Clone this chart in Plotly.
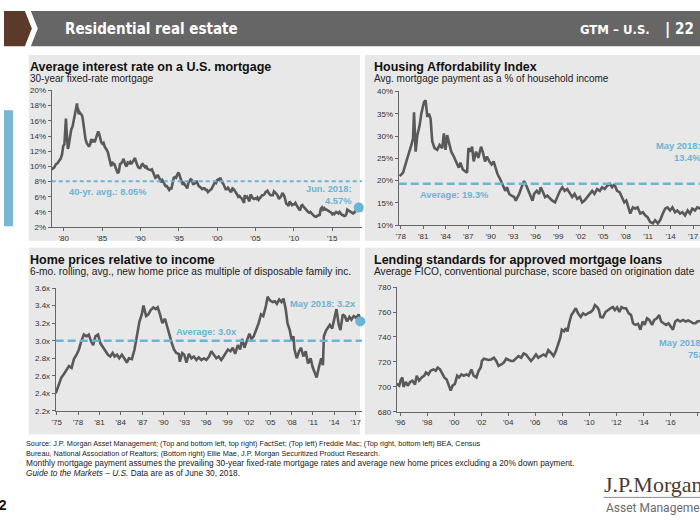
import plotly.graph_objects as go

W, H = 700, 525

# ---------------- data ----------------
# Panel 1: 30-year fixed mortgage rate (%)
rate_years = [1978.45,1978.6,1978.8,1979.0,1979.2,1979.4,1979.6,1979.8,1979.95,1980.1,1980.2,1980.3,1980.38,1980.45,1980.55,1980.62,1980.75,1980.9,
 1981.0,1981.15,1981.3,1981.45,1981.6,1981.75,1981.8,1981.87,1981.95,1982.1,1982.25,1982.4,1982.5,1982.6,1982.72,1982.85,
 1983.0,1983.15,1983.3,1983.45,1983.6,1983.75,1983.9,1984.05,1984.2,1984.35,1984.5,1984.6,1984.75,1984.9,
 1985.05,1985.2,1985.35,1985.5,1985.6,1985.75,1985.9,1986.05,1986.2,1986.3,1986.45,1986.6,1986.75,1986.9,
 1987.05,1987.2,1987.35,1987.5,1987.65,1987.8,1987.9,1988.05,1988.2,1988.35,1988.5,1988.65,1988.8,1988.95,
 1989.1,1989.3,1989.4,1989.55,1989.7,1989.85,1990.0,1990.15,1990.3,1990.45,1990.6,1990.75,1990.9,
 1991.05,1991.2,1991.35,1991.5,1991.65,1991.8,1991.95,1992.1,1992.25,1992.4,1992.55,1992.7,1992.85,
 1993.0,1993.15,1993.3,1993.45,1993.6,1993.75,1993.9,1994.05,1994.2,1994.35,1994.5,1994.65,1994.8,1994.95,
 1995.05,1995.2,1995.35,1995.5,1995.65,1995.8,1995.95,1996.1,1996.25,1996.4,1996.55,1996.7,1996.85,
 1997.0,1997.15,1997.3,1997.45,1997.6,1997.75,1997.9,1998.05,1998.2,1998.35,1998.5,1998.65,1998.8,1998.95,
 1999.1,1999.25,1999.4,1999.55,1999.7,1999.85,2000.0,2000.15,2000.3,2000.4,2000.5,2000.65,2000.8,2000.95,
 2001.1,2001.25,2001.4,2001.55,2001.7,2001.85,2002.0,2002.15,2002.3,2002.45,2002.6,2002.75,2002.9,
 2003.05,2003.2,2003.35,2003.5,2003.6,2003.75,2003.9,2004.05,2004.2,2004.35,2004.5,2004.65,2004.8,2004.95,
 2005.1,2005.25,2005.4,2005.55,2005.7,2005.85,2006.0,2006.15,2006.3,2006.45,2006.55,2006.7,2006.85,2006.95,
 2007.1,2007.25,2007.4,2007.55,2007.7,2007.85,2007.95,2008.05,2008.2,2008.35,2008.5,2008.6,2008.75,2008.9,
 2009.0,2009.15,2009.3,2009.45,2009.6,2009.75,2009.9,2010.05,2010.2,2010.35,2010.5,2010.65,2010.8,2010.95,
 2011.1,2011.25,2011.4,2011.55,2011.7,2011.85,2012.0,2012.15,2012.3,2012.45,2012.6,2012.75,2012.9,
 2013.05,2013.2,2013.35,2013.5,2013.65,2013.8,2013.95,2014.1,2014.25,2014.4,2014.55,2014.7,2014.85,
 2015.0,2015.1,2015.25,2015.4,2015.5,2015.65,2015.8,2015.95,2016.1,2016.25,2016.4,2016.55,2016.7,2016.85,2016.95,
 2017.1,2017.25,2017.4,2017.55,2017.7,2017.85,2017.95,2018.1,2018.25,2018.35,2018.45]
rate_values = [9.6,9.75,9.9,10.3,10.4,10.7,11.0,11.6,12.7,12.9,14.5,16.3,14.8,13.0,12.3,12.5,13.6,14.5,
 14.9,15.2,16.0,16.6,17.2,18.3,17.4,17.7,16.9,17.1,16.9,16.7,16.2,15.4,14.2,13.6,
 13.1,12.9,12.6,12.9,13.6,13.3,13.4,13.2,13.6,14.1,14.6,14.4,13.8,13.2,
 13.0,13.1,12.6,12.2,12.2,11.9,11.2,10.6,10.0,10.6,10.3,10.3,9.8,9.3,
 9.1,9.3,10.3,10.4,10.6,11.0,10.5,10.2,10.0,10.5,10.4,10.6,10.3,10.6,
 10.8,11.1,10.7,10.2,9.9,9.8,9.8,10.2,10.3,10.1,9.9,10.1,9.7,
 9.6,9.5,9.5,9.6,9.2,8.9,8.5,8.6,8.9,8.6,8.1,7.9,8.2,
 8.0,7.6,7.4,7.4,7.1,6.9,7.1,7.1,7.8,8.5,8.6,8.5,8.9,9.2,
 9.0,8.6,8.0,7.6,7.8,7.5,7.2,7.1,7.8,8.1,8.3,8.2,7.7,
 7.7,7.8,8.1,7.6,7.4,7.3,7.1,7.0,7.1,7.1,6.9,6.9,6.6,6.8,
 6.9,7.0,7.3,7.6,7.9,7.8,8.2,8.3,8.2,8.5,8.2,7.9,7.7,7.2,
 7.0,7.0,7.2,7.0,6.7,6.7,7.1,7.0,6.8,6.6,6.3,6.0,6.1,
 5.9,5.8,5.5,5.2,6.2,5.9,6.0,5.7,5.4,6.3,6.0,5.8,5.7,5.8,
 5.7,5.9,5.6,5.8,5.9,6.2,6.2,6.3,6.6,6.7,6.8,6.5,6.3,6.2,
 6.2,6.2,6.7,6.6,6.4,6.2,6.0,5.7,5.9,6.1,6.5,6.3,6.1,5.5,
 5.1,5.0,4.8,5.4,5.2,4.9,5.0,5.0,5.2,4.8,4.6,4.4,4.2,4.8,
 4.9,4.7,4.5,4.3,4.1,4.0,3.9,4.0,3.8,3.6,3.5,3.4,3.35,
 3.5,3.6,3.6,4.4,4.6,4.3,4.5,4.3,4.3,4.2,4.1,4.1,3.9,
 3.7,3.8,3.7,3.9,4.0,3.9,3.8,4.0,3.7,3.6,3.6,3.45,3.5,3.8,4.3,
 4.2,4.1,3.9,3.9,3.8,3.9,4.0,4.2,4.5,4.6,4.57]
rate_avg = 8.05
rate_yticks = [2, 4, 6, 8, 10, 12, 14, 16, 18, 20]
rate_ylabels = ["2%", "4%", "6%", "8%", "10%", "12%", "14%", "16%", "18%", "20%"]
rate_xticks = [1980, 1985, 1990, 1995, 2000, 2005, 2010, 2015]
rate_xlabels = ["'80", "'85", "'90", "'95", "'00", "'05", "'10", "'15"]

# Panel 2: Housing affordability (% of income)
afford_years = [1977.85,1978.31,1978.75,1979.19,1979.42,1979.64,1979.77,1979.99,1980.21,1980.52,1980.74,1981.10,1981.32,1981.54,1981.76,1981.98,
 1982.20,1982.51,1982.87,1983.18,1983.53,1983.75,1983.97,1984.19,1984.50,1984.73,1985.08,1985.39,1985.74,1985.96,1986.27,1986.58,1986.85,
 1987.03,1987.29,1987.51,1987.73,1988.04,1988.35,1988.71,1988.93,1989.24,1989.50,1989.81,1990.12,1990.39,1990.70,1990.92,1991.27,1991.58,1991.94,
 1992.16,1992.47,1992.78,1993.13,1993.35,1993.80,1994.11,1994.46,1994.77,1995.04,1995.35,1995.57,1995.79,1996.14,1996.45,1996.67,1996.98,
 1997.25,1997.56,1997.91,1998.22,1998.58,1998.88,1999.24,1999.55,1999.86,2000.21,2000.57,2000.88,2001.19,2001.54,2001.89,2002.20,2002.51,2002.87,
 2003.22,2003.53,2003.84,2004.19,2004.55,2004.86,2005.21,2005.52,2005.88,2006.19,2006.50,2006.85,2007.20,2007.51,2007.82,2008.09,2008.40,2008.62,
 2008.97,2009.28,2009.59,2009.95,2010.30,2010.61,2010.92,2011.27,2011.63,2011.94,2012.29,2012.60,2012.96,2013.27,2013.58,2013.93,2014.24,2014.59,
 2014.90,2015.26,2015.57,2015.92,2016.27,2016.58,2016.89,2017.25,2017.56,2017.91,2018.40]
afford_values = [21.0,21.8,24.3,26.5,28.0,29.5,35.3,26.5,30.2,32.4,35.0,37.6,38.0,34.3,35.0,33.9,
 28.8,27.3,26.9,28.0,27.3,30.6,26.9,30.2,28.4,26.5,25.4,24.3,22.9,24.0,22.5,22.1,21.8,
 27.3,26.5,27.6,24.3,26.5,25.1,27.6,26.5,24.3,25.4,24.3,23.6,24.3,22.5,21.4,20.3,19.2,17.7,
 18.5,17.0,16.6,16.3,15.5,17.0,18.5,19.9,18.8,17.7,16.6,15.5,17.0,17.7,17.0,18.5,17.4,
 16.3,16.6,15.9,15.5,15.1,16.3,17.7,18.5,17.7,18.1,17.0,16.3,17.0,15.9,16.3,15.1,15.5,16.3,
 17.0,17.7,17.0,18.1,17.7,18.5,18.1,18.8,19.3,18.5,19.2,17.7,17.4,16.3,15.1,15.5,13.7,12.6,
 14.0,13.7,14.0,12.6,12.9,12.2,11.8,10.7,10.4,11.1,10.4,11.1,12.6,13.7,14.0,13.3,14.0,12.9,
 13.3,12.6,12.9,12.2,13.3,12.6,13.7,13.3,14.0,13.7,13.4]
afford_avg = 19.3
afford_yticks = [10, 15, 20, 25, 30, 35, 40]
afford_ylabels = ["10%", "15%", "20%", "25%", "30%", "35%", "40%"]
afford_xticks = [1978, 1981, 1984, 1987, 1990, 1993, 1996, 1999, 2002, 2005, 2008, 2011, 2014, 2017]
afford_xlabels = ["'78", "'81", "'84", "'87", "'90", "'93", "'96", "'99", "'02", "'05", "'08", "'11", "'14", "'17"]

# Panel 3: Home price / income (x)
pti_years = [1974.86,1975.09,1975.33,1975.65,1976.02,1976.35,1976.72,1977.09,1977.42,1977.79,1978.12,1978.44,1978.81,1979.19,1979.51,1979.84,
 1980.12,1980.44,1980.81,1981.14,1981.51,1981.84,1982.21,1982.53,1982.86,1983.14,1983.47,1983.79,1984.16,1984.49,1984.86,1985.14,1985.56,1985.93,
 1986.26,1986.63,1986.95,1987.19,1987.56,1987.88,1988.21,1988.58,1988.91,1989.19,1989.51,1989.84,1990.21,1990.53,1990.81,1991.14,1991.47,1991.79,
 1992.16,1992.30,1992.63,1992.91,1993.23,1993.56,1993.93,1994.26,1994.63,1994.95,1995.33,1995.70,1996.02,1996.40,1996.72,1997.05,1997.42,1997.74,
 1998.12,1998.44,1998.72,1999.05,1999.42,1999.74,2000.07,2000.44,2000.77,2001.05,2001.37,2001.70,2002.07,2002.35,2002.67,2003.00,2003.37,2003.70,
 2004.02,2004.40,2004.63,2004.95,2005.33,2005.65,2005.93,2006.26,2006.58,2006.86,2007.19,2007.42,2007.74,2008.02,2008.26,2008.40,2008.72,2009.05,
 2009.33,2009.65,2009.98,2010.30,2010.67,2010.95,2011.23,2011.51,2011.84,2012.16,2012.40,2012.53,2012.86,2013.14,2013.37,2013.70,2014.02,2014.30,
 2014.63,2014.86,2015.19,2015.47,2015.79,2016.12,2016.40,2016.72,2017.09,2017.42,2017.65]
pti_values = [2.40,2.45,2.52,2.58,2.62,2.67,2.71,2.69,2.79,2.84,2.90,2.99,3.07,3.05,3.07,2.99,
 2.95,3.05,3.07,2.97,2.92,2.88,2.84,2.82,2.86,2.82,2.84,2.80,2.84,2.80,2.75,2.80,2.79,2.90,
 3.05,3.22,3.30,3.40,3.28,3.30,3.35,3.38,3.36,3.38,3.30,3.20,3.25,3.15,3.05,2.98,2.90,2.86,
 2.85,2.76,2.86,2.84,2.75,2.85,2.80,2.82,2.78,2.81,2.78,2.80,2.78,2.82,2.88,2.84,2.80,2.82,
 2.78,2.82,2.86,2.90,2.88,2.92,2.85,2.95,2.90,3.02,2.92,3.00,3.08,3.02,3.05,3.12,3.20,3.30,
 3.28,3.40,3.50,3.46,3.44,3.45,3.42,3.47,3.44,3.48,3.35,3.20,3.12,3.00,3.05,2.90,2.80,2.88,
 2.92,2.82,2.88,2.74,2.80,2.70,2.65,2.58,2.70,2.80,2.72,3.05,3.12,3.15,3.18,3.14,3.25,3.36,
 3.18,3.12,3.30,3.28,3.22,3.27,3.24,3.28,3.26,3.30,3.22]
pti_avg = 3.0
pti_yticks = [2.2, 2.4, 2.6, 2.8, 3.0, 3.2, 3.4, 3.6]
pti_ylabels = ["2.2x", "2.4x", "2.6x", "2.8x", "3.0x", "3.2x", "3.4x", "3.6x"]
pti_xticks = [1975, 1978, 1981, 1984, 1987, 1990, 1993, 1996, 1999, 2002, 2005, 2008, 2011, 2014, 2017]
pti_xlabels = ["'75", "'78", "'81", "'84", "'87", "'90", "'93", "'96", "'99", "'02", "'05", "'08", "'11", "'14", "'17"]

# Panel 4: Average FICO score
fico_years = [1995.75,1995.93,1996.07,1996.17,1996.25,1996.42,1996.56,1996.74,1996.91,1997.10,1997.23,1997.40,1997.60,1997.79,1997.91,
 1998.09,1998.26,1998.46,1998.63,1998.78,1998.95,1999.07,1999.27,1999.44,1999.61,1999.74,1999.88,2000.05,2000.22,2000.36,2000.53,2000.71,2000.90,
 2001.07,2001.27,2001.44,2001.64,2001.81,2001.96,2002.05,2002.20,2002.37,2002.54,2002.74,2002.94,2003.11,2003.28,2003.48,2003.67,2003.84,
 2004.01,2004.21,2004.38,2004.58,2004.75,2004.95,2005.14,2005.31,2005.49,2005.68,2005.88,2006.05,2006.22,2006.42,2006.61,2006.78,2006.96,
 2007.15,2007.35,2007.52,2007.64,2007.84,2007.96,2008.13,2008.25,2008.38,2008.50,2008.67,2008.82,2008.99,2009.16,2009.36,2009.53,2009.72,2009.89,
 2010.09,2010.26,2010.41,2010.58,2010.70,2010.82,2011.00,2011.19,2011.36,2011.56,2011.73,2011.88,2012.05,2012.22,2012.37,2012.54,2012.71,2012.91,
 2013.08,2013.23,2013.40,2013.60,2013.77,2013.94,2014.09,2014.26,2014.43,2014.63,2014.80,2014.99,2015.16,2015.31,2015.48,2015.68,2015.85,
 2016.02,2016.18,2016.35,2016.52,2016.72,2016.93,2017.12,2017.31,2017.48,2017.66,2017.85,2017.98,2018.30]
fico_values = [702.4,701,706,707.5,700,704,701,704,705,702,709,705,707.6,709,711.6,
 710,713,714,713,715.5,714,711.6,707.6,706,700,697,701,702.4,709,707.6,710,709,710,
 709,714,709,707.6,713,715.5,720.8,722.6,722,721.6,722,723.4,720.8,716.8,718,719.5,722.6,
 721.6,720.8,720.8,723.4,724.7,723.4,726.8,726,723.4,720.8,723.4,726,723.4,724.7,726,724.7,729.5,
 727.4,724.7,728.7,732.6,739.2,745.8,744.5,747,744.5,751,757.6,760,763,759,756,759,757.6,759,
 760,761.6,765.5,764,761.6,756,755.8,760,761.6,763,764,761.6,763.7,760,764,763,763,759,
 757.6,751,749.7,750.5,745.8,752.4,749.7,755,753.7,749.7,753.7,755,757.6,752.4,751,749.7,751,
 748.4,745.8,752.4,753.7,752.4,753.7,752.4,753.2,752.4,751,751,752.4,753]
fico_yticks = [680, 700, 720, 740, 760, 780]
fico_ylabels = ["680", "700", "720", "740", "760", "780"]
fico_xticks = [1996, 1998, 2000, 2002, 2004, 2006, 2008, 2010, 2012, 2014, 2016, 2018]
fico_xlabels = ["'96", "'98", "'00", "'02", "'04", "'06", "'08", "'10", "'12", "'14", "'16", "'18"]

# ---------------- style ----------------
LINE = "#595959"
BLUE = "#6cb3d4"
PANEL = "#e8e8e8"
FONT = "Liberation Sans, Arial, sans-serif"
HEADFONT = "DejaVu Sans Condensed, Roboto, sans-serif"


def fx(x):
    return x / W


def fy(y):
    return 1 - y / H


fig = go.Figure()

series = [
    (rate_years, rate_values, "x", "y"),
    (afford_years, afford_values, "x2", "y2"),
    (pti_years, pti_values, "x3", "y3"),
    (fico_years, fico_values, "x4", "y4"),
]
for xs, ys, xa, ya in series:
    fig.add_trace(go.Scatter(x=xs, y=ys, mode="lines", xaxis=xa, yaxis=ya,
                             line=dict(color=LINE, width=2.6), hoverinfo="skip",
                             showlegend=False))
    fig.add_trace(go.Scatter(x=[xs[-1]], y=[ys[-1]], mode="markers", xaxis=xa, yaxis=ya,
                             marker=dict(color=BLUE, size=10), cliponaxis=False,
                             hoverinfo="skip", showlegend=False))


def axis_common(domain, rng, tv, tt, anchor):
    return dict(domain=domain, range=rng, tickvals=tv, ticktext=tt, anchor=anchor,
                showline=True, linecolor="#666", linewidth=1, ticks="outside",
                ticklen=3, tickcolor="#666", showgrid=False, zeroline=False,
                tickfont=dict(family=FONT, size=8, color="#333"), fixedrange=True)


fig.update_layout(
    xaxis=axis_common([fx(48), fx(360)], [1978.45, 2018.86], rate_xticks, rate_xlabels, "y"),
    yaxis=axis_common([fy(227), fy(88)], [2, 20], rate_yticks, rate_ylabels, "x"),
    xaxis2=axis_common([fx(397), 1.0], [1977.73, 2017.92], afford_xticks, afford_xlabels, "y2"),
    yaxis2=axis_common([fy(225), fy(89)], [10, 40], afford_yticks, afford_ylabels, "x2"),
    xaxis3=axis_common([fx(52), fx(360)], [1974.86, 2017.88], pti_xticks, pti_xlabels, "y3"),
    yaxis3=axis_common([fy(414), fy(289)], [2.2, 3.6], pti_yticks, pti_ylabels, "x3"),
    xaxis4=axis_common([fx(395), 1.0], [1995.75, 2018.18], fico_xticks, fico_xlabels, "y4"),
    yaxis4=axis_common([fy(415), fy(288)], [680, 780], fico_yticks, fico_ylabels, "x4"),
)

shapes = []


def rect(x0, y0, x1, y1, color):
    shapes.append(dict(type="rect", xref="paper", yref="paper", x0=fx(x0), x1=fx(x1),
                       y0=fy(y1), y1=fy(y0), fillcolor=color, line=dict(width=0), layer="below"))


def poly(pts, color):
    path = "M" + " L".join(f"{fx(a):.5f},{fy(b):.5f}" for a, b in pts) + " Z"
    shapes.append(dict(type="path", xref="paper", yref="paper", path=path,
                       fillcolor=color, line=dict(width=0), layer="below"))


# header
poly([(0, 7), (21, 7), (28, 25), (21, 43), (0, 43)], "#5b3a29")
poly([(27, 7), (700, 7), (700, 43), (27, 43), (34, 25)], "#666666")
# panels
rect(25, 52, 358, 241, PANEL)
rect(363, 52, 700, 241, PANEL)
rect(25, 248, 358, 438, PANEL)
rect(363, 248, 700, 438, PANEL)
# blue sidebar
rect(0, 108, 9, 226, "#78b6d1")
# logo rule
shapes.append(dict(type="line", xref="paper", yref="paper", x0=fx(603), x1=1.0,
                   y0=fy(502), y1=fy(502), line=dict(color="#8a8a8a", width=1)))

# average lines
for xa, ya, val, dash, wd in [("x", "y", rate_avg, "4px,3px", 2),
                              ("x2", "y2", afford_avg, "8px,4px", 2.5),
                              ("x3", "y3", pti_avg, "8px,4px", 2.5)]:
    shapes.append(dict(type="line", xref=f"{xa} domain", yref=ya, x0=0, x1=1, y0=val, y1=val,
                       line=dict(color=BLUE, width=wd, dash=dash), layer="above"))

fig.update_layout(shapes=shapes)

ann = []


def text(x, y, s, size=10, color="#222", anchor="left", bold=False, family=FONT, align=None):
    if bold:
        s = f"<b>{s}</b>"
    ann.append(dict(xref="paper", yref="paper", x=fx(x), y=fy(y), text=s, showarrow=False,
                    xanchor=anchor, yanchor="middle", align=align or anchor,
                    xshift=-4 if anchor == "left" else 0,
                    font=dict(family=family, size=size, color=color)))


# header text
text(63, 25, "Residential real estate", size=15, color="white", bold=True, family=HEADFONT)
text(652, 26, "GTM – U.S.", size=13, color="white", anchor="right", bold=True, family=HEADFONT)
text(667, 25, "|", size=16, color="white", anchor="center", bold=True, family=HEADFONT)
text(696, 25, "22", size=15, color="white", anchor="right", bold=True, family=HEADFONT)

# panel titles
text(28, 64, "Average interest rate on a U.S. mortgage", size=12.5, bold=True, color="#111")
text(28, 76, "30-year fixed-rate mortgage", size=10, color="#222")
text(374, 64, "Housing Affordability Index", size=12.5, bold=True, color="#111")
text(374, 76, "Avg. mortgage payment as a % of household income", size=10, color="#222")
text(28, 260, "Home prices relative to income", size=12.5, bold=True, color="#111")
text(28, 272, "6-mo. rolling, avg., new home price as multiple of disposable family inc.", size=10.2, color="#222")
text(374, 260, "Lending standards for approved mortgage loans", size=12.5, bold=True, color="#111")
text(374, 272, "Average FICO, conventional purchase, score based on origination date", size=10.2, color="#222")

# callouts
CS = 9.3
text(67, 191, "40-yr. avg.: 8.05%", size=CS, color=BLUE, bold=True)
text(352, 194, "Jun. 2018:<br>4.57%", size=CS, color=BLUE, bold=True, anchor="right")
text(420, 194, "Average: 19.3%", size=CS, color=BLUE, bold=True)
text(703, 151, "May 2018:<br>13.4%", size=CS, color=BLUE, bold=True, anchor="right")
text(175, 334, "Average: 3.0x", size=CS, color=BLUE, bold=True)
text(290, 305, "May 2018: 3.2x", size=CS, color=BLUE, bold=True)
text(705, 351, "May 2018:<br>753", size=CS, color=BLUE, bold=True, anchor="right")

# source text
src = [
    ("Source: J.P. Morgan Asset Management; (Top and bottom left, top right) FactSet; (Top left) Freddie Mac; (Top right, bottom left) BEA, Census", 7.3),
    ("Bureau, National Association of Realtors; (Bottom right) Ellie Mae, J.P. Morgan Securitized Product Research.", 7.3),
    ("Monthly mortgage payment assumes the prevailing 30-year fixed-rate mortgage rates and average new home prices excluding a 20% down payment.", 8.3),
    ("<i>Guide to the Markets – U.S.</i> Data are as of June 30, 2018.", 8.3),
]
for i, (s, sz) in enumerate(src):
    text(24, 447 + i * 10.2, s, size=sz, color="#222")

# logo and page number
text(605, 489, "J.P.Morgan", size=22, color="#4b3b30", family="Liberation Serif, Times New Roman, serif")
text(607, 513, "Asset Management", size=12, color="#6a6a6a", family="Roboto, sans-serif")
text(5, 510, "22", size=14, color="#111", anchor="right", bold=True)

fig.update_layout(annotations=ann, width=W, height=H, margin=dict(l=0, r=0, t=0, b=0),
                  paper_bgcolor="white", plot_bgcolor="rgba(0,0,0,0)", showlegend=False)

fig.write_html("out.html", config={"displayModeBar": False},
               post_script="document.body.style.margin='0';document.body.style.overflow='hidden';")
